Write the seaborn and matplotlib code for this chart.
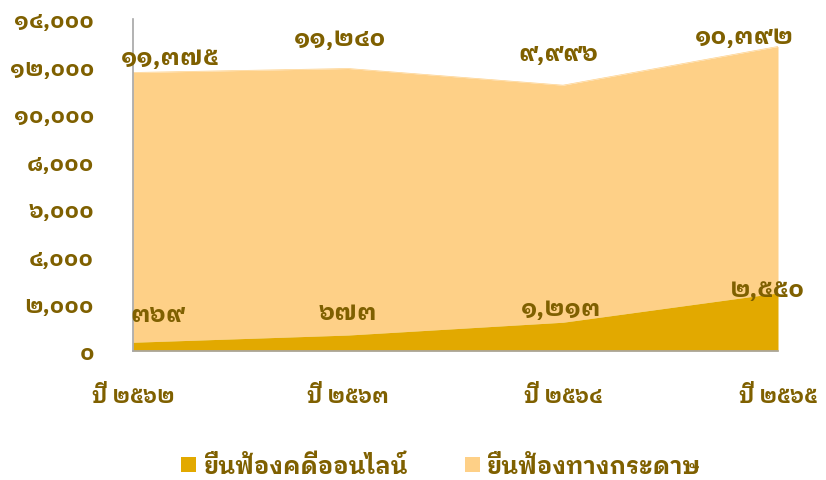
import matplotlib
matplotlib.use("Agg")
import matplotlib.pyplot as plt
import seaborn as sns
import numpy as np
import pandas as pd
from matplotlib.patches import Patch

years = ["ปี ๒๕๖๒", "ปี ๒๕๖๓", "ปี ๒๕๖๔", "ปี ๒๕๖๕"]
online = [369, 673, 1213, 2450]
paper = [11375, 11240, 9996, 10392]
online_labels = ["๓๖๙", "๖๗๓", "๑,๒๑๓", "๒,๕๕๐"]
paper_labels = ["๑๑,๓๗๕", "๑๑,๒๔๐", "๙,๙๙๖", "๑๐,๓๙๒"]
yticks = [0, 2000, 4000, 6000, 8000, 10000, 12000, 14000]
ytick_labels = ["๐", "๒,๐๐๐", "๔,๐๐๐", "๖,๐๐๐", "๘,๐๐๐", "๑๐,๐๐๐", "๑๒,๐๐๐", "๑๔,๐๐๐"]
series_names = ["ยื่นฟ้องคดีออนไลน์", "ยื่นฟ้องทางกระดาษ"]

sns.set_theme(style="white")
plt.rcParams["font.family"] = ["IBM Plex Sans Thai Looped", "DejaVu Sans"]
plt.rcParams["font.weight"] = "bold"

TXT = "#7f6000"
C_ON = "#e2a900"
C_PA = "#fed087"

df = pd.DataFrame({"x": np.arange(len(years)), "online": online, "paper": paper})
df["total"] = df["online"] + df["paper"]

fig = plt.figure(figsize=(8.26, 4.81), dpi=100)
ax = fig.add_axes([133 / 826, 1 - 352 / 481, (778 - 133) / 826, (352 - 20) / 481])

ax.fill_between(df["x"], 0, df["online"], color=C_ON, linewidth=0, zorder=2)
ax.fill_between(df["x"], df["online"], df["total"], color=C_PA, linewidth=0, zorder=1)
sns.lineplot(x=df["x"], y=df["total"], ax=ax, color=C_PA, linewidth=0.5, zorder=1)

ax.set_xlim(0, len(years) - 1)
ax.set_ylim(0, 14000)
ax.set_yticks(yticks)
ax.set_yticklabels(ytick_labels)
ax.set_xticks(df["x"])
ax.set_xticklabels(years)
ax.set_xlabel("")
ax.set_ylabel("")
ax.tick_params(axis="y", length=0, pad=28, labelsize=16.5, labelcolor=TXT)
ax.tick_params(axis="x", length=0, pad=24, labelsize=15.5, labelcolor=TXT)
for s in ["top", "right"]:
    ax.spines[s].set_visible(False)
for s in ["left", "bottom"]:
    ax.spines[s].set_color("#a6a6a6")
    ax.spines[s].set_linewidth(1.2)
ax.grid(False)

paper_off = [(37, 15), (-8, 30), (-5, 32), (-34, 10)]
online_off = [(25, 28), (0, 23), (-2, 14), (-11, 4)]
for i in range(len(years)):
    ax.annotate(paper_labels[i], (df["x"][i], df["total"][i]), xytext=paper_off[i],
                textcoords="offset pixels", ha="center", va="center",
                fontsize=18, color=TXT, fontweight="bold", annotation_clip=False)
    ax.annotate(online_labels[i], (df["x"][i], df["online"][i]), xytext=online_off[i],
                textcoords="offset pixels", ha="center", va="center",
                fontsize=18, color=TXT, fontweight="bold", annotation_clip=False)

handles = [Patch(facecolor=C_ON, edgecolor="none"), Patch(facecolor=C_PA, edgecolor="none")]
fig.legend(handles, series_names, loc="center", bbox_to_anchor=(441 / 826, 1 - 467 / 481),
           ncol=2, frameon=False, fontsize=17, labelcolor=TXT, handlelength=0.65,
           handleheight=0.65, handletextpad=0.3, columnspacing=2.4)

fig.savefig("out.png", dpi=100)
